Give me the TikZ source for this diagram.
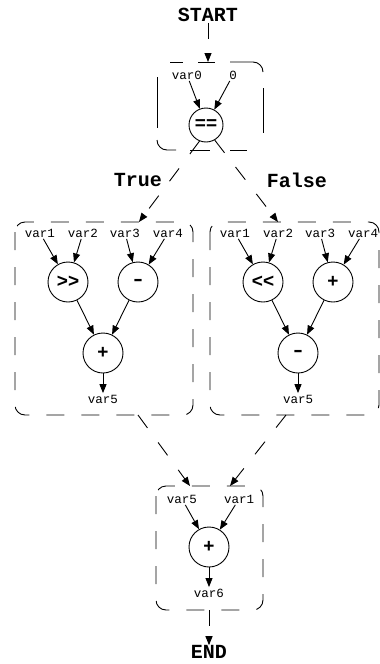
\documentclass[tikz,border=0pt]{standalone}
\usepackage{fontspec}
\newfontfamily\codefont{Liberation Mono}
\newfontfamily\opsfont{Liberation Sans}
\usetikzlibrary{arrows.meta}
\begin{document}
\begin{tikzpicture}[x=1pt,y=-1pt,
  lbl/.style={font=\codefont\fontsize{12.5}{14}\selectfont, inner sep=1.5pt},
  ttl/.style={font=\codefont\bfseries\fontsize{20}{24}\selectfont, inner sep=1pt},
  opnode/.style={circle, draw, line width=0.9pt, minimum size=40pt, inner sep=0pt,
    font=\opsfont\bfseries\fontsize{19}{22}\selectfont},
  flow/.style={line width=0.9pt, -{Triangle[length=9pt,width=7pt]}},
  jump/.style={flow, dash pattern=on 16pt off 18pt},
  cluster/.style={line width=0.9pt, dash pattern=on 18pt off 17pt, rounded corners=10pt},
  piece/.style={line width=0.9pt, rounded corners=10pt}
]
\useasboundingbox (0,0) rectangle (380,664);

% ---- entry block: var0 == 0 ----
\node[ttl] (start) at (208,15) {START};
\coordinate (c1top) at (208,62);
\draw[piece] (170,62) -- (183,62);
\draw[piece] (198,62) -- (215,62);
\draw[piece] (230,62) -- (263,62) -- (263,72);
\draw[piece] (263,88) -- (263,133);
\draw[piece] (157,140) -- (157,150) -- (176,150);
\draw[piece] (190,150) -- (210,150);
\draw[piece] (230,150) -- (247,150);
\draw[piece] (157,77) -- (157,128);

\node[lbl] (v0) at (187,75) {var0};
\node[lbl] (z0) at (233,75) {0};
\node[opnode, minimum size=34pt] (eq) at (206,125) {==};
\draw[flow] (v0) -- (eq);
\draw[flow] (z0) -- (eq);
\draw[jump] (start) -- (c1top);

% ---- branch labels ----
\node[ttl] (tlab) at (138,180) {True};
\node[ttl] (flab) at (297,180) {False};
\coordinate (ltop) at (139,222);
\coordinate (rtop) at (278,222);
\draw[jump] (eq.-112) -- (ltop);
\draw[jump] (eq.-60) -- (rtop);

% ---- True block ----
\draw[cluster] (15,222) rectangle (193,415);
\node[lbl] (a1) at (40,233) {var1};
\node[lbl] (a2) at (83,233) {var2};
\node[lbl] (a3) at (125,233) {var3};
\node[lbl] (a4) at (168,233) {var4};
\node[opnode] (shr) at (68,282) {>\kern0pt>};
\node[opnode] (lsub) at (138,282) {\scalebox{1.5}[1]{-}};
\node[opnode] (ladd) at (103,353) {+};
\node[lbl] (lv5) at (103,399) {var5};
\draw[flow] (a1) -- (shr);
\draw[flow] (a2) -- (shr);
\draw[flow] (a3) -- (lsub);
\draw[flow] (a4) -- (lsub);
\draw[flow] (shr) -- (ladd);
\draw[flow] (lsub) -- (ladd);
\draw[flow] (ladd) -- (lv5);

% ---- False block ----
\draw[cluster] (210,222) rectangle (379,415);
\node[lbl] (b1) at (235,233) {var1};
\node[lbl] (b2) at (278,233) {var2};
\node[lbl] (b3) at (320,233) {var3};
\node[lbl] (b4) at (363,233) {var4};
\node[opnode] (shl) at (263,282) {<\kern0pt<};
\node[opnode] (radd) at (333,282) {+};
\node[opnode] (rsub) at (298,353) {\scalebox{1.5}[1]{-}};
\node[lbl] (rv5) at (298,399) {var5};
\draw[flow] (b1) -- (shl);
\draw[flow] (b2) -- (shl);
\draw[flow] (b3) -- (radd);
\draw[flow] (b4) -- (radd);
\draw[flow] (shl) -- (rsub);
\draw[flow] (radd) -- (rsub);
\draw[flow] (rsub) -- (rv5);

% ---- merge block ----
\coordinate (lbot) at (138,415);
\coordinate (rbot) at (286,415);
\coordinate (bin1) at (190,486);
\coordinate (bin2) at (230,486);
\draw[jump] (lbot) -- (bin1);
\draw[jump] (rbot) -- (bin2);

\draw[cluster] (156,486) rectangle (263,610);
\node[lbl] (c5) at (182,499) {var5};
\node[lbl] (c1) at (239,499) {var1};
\node[opnode] (cadd) at (209,547) {+};
\node[lbl] (v6) at (209,593) {var6};
\draw[flow] (c5) -- (cadd);
\draw[flow] (c1) -- (cadd);
\draw[flow] (cadd) -- (v6);

\coordinate (cbot) at (209,610);
\node[ttl, inner sep=0pt] (end) at (209,652) {END};
\draw[jump] (cbot) -- (end);
\end{tikzpicture}
\end{document}
